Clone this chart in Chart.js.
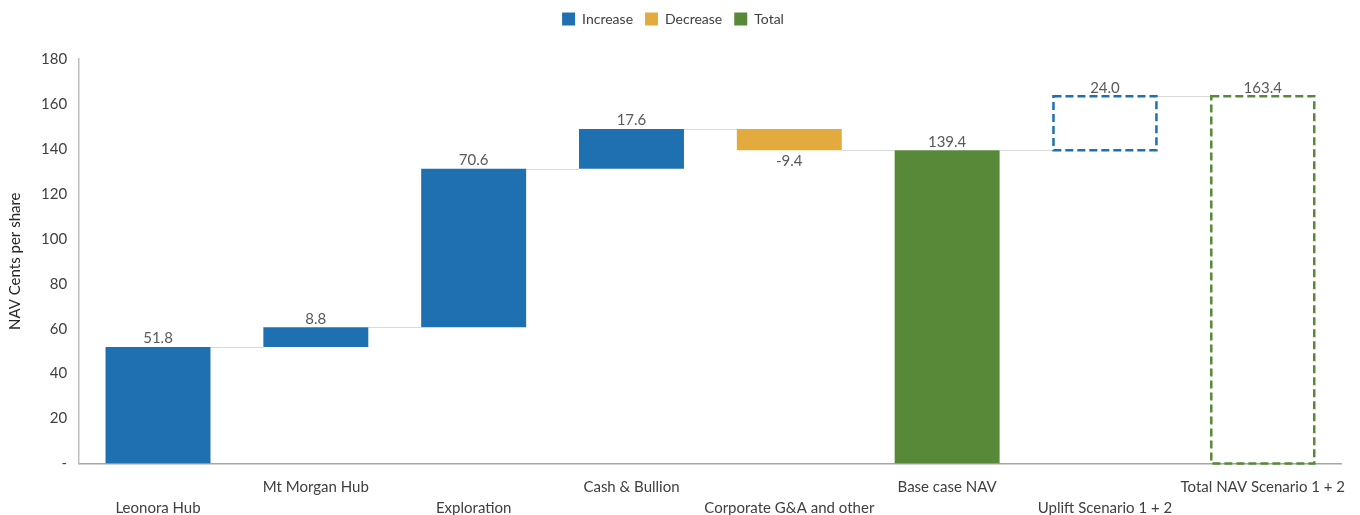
<!DOCTYPE html>
<html>
<head>
<meta charset="utf-8">
<script src="https://cdn.jsdelivr.net/npm/chart.js@4"></script>
<style>
  html, body { margin: 0; padding: 0; background: #fff; }
  #wrap { width: 1360px; height: 515px; position: relative; }
</style>
</head>
<body>
<div id="wrap"><canvas id="NavWaterfall"></canvas></div>
<script>
const categories = [
    "Leonora Hub",
    "Mt Morgan Hub",
    "Exploration",
    "Cash & Bullion",
    "Corporate G&A and other",
    "Base case NAV",
    "Uplift Scenario 1 + 2",
    "Total NAV Scenario 1 + 2"
];
// step value for each bar, and which legend group it belongs to
const stepValues = [51.8, 8.8, 70.6, 17.6, -9.4, 139.4, 24.0, 163.4];
const stepKinds = ["up", "up", "up", "up", "down", "total", "up", "total"];
// scenario bars shown as dashed outlines only
const outlineOnly = [false, false, false, false, false, false, true, true];
const yTicks = [0, 20, 40, 60, 80, 100, 120, 140, 160, 180];

const BLUE = "rgb(31, 112, 176)";
const GOLD = "rgb(227, 171, 61)";
const GREEN = "rgb(88, 137, 56)";
const BAR_PCT = 0.665;

// running totals -> floating [start, end] ranges
var ranges = [];
var running = 0;
stepValues.forEach(function (v, i) {
    if (stepKinds[i] === "total") {
        ranges.push([0, v]);
        running = v;
    } else {
        ranges.push([running, running + v]);
        running += v;
    }
});

function seriesFor(kind) {
    return ranges.map(function (r, i) { return stepKinds[i] === kind ? r : null; });
}
function fillsFor(color) {
    return outlineOnly.map(function (o) { return o ? "rgba(0,0,0,0)" : color; });
}

// extra room between the legend and the plot
const legendGap = {
    id: "legendGap",
    beforeInit: function (chart) {
        const fit = chart.legend.fit;
        chart.legend.fit = function () {
            fit.bind(chart.legend)();
            this.height += 23;
        };
    }
};

// grey connector lines between neighbouring bars
const connectorPlugin = {
    id: "connectors",
    beforeDatasetsDraw: function (chart) {
        const ctx = chart.ctx;
        const x = chart.scales.x;
        const y = chart.scales.y;
        const step = x.getPixelForValue(1) - x.getPixelForValue(0);
        const halfBar = step * BAR_PCT / 2;
        ctx.save();
        ctx.strokeStyle = "#d9d9d9";
        ctx.lineWidth = 1;
        for (let i = 0; i < ranges.length - 1; i++) {
            const py = Math.round(y.getPixelForValue(ranges[i][1])) + 0.5;
            ctx.beginPath();
            ctx.moveTo(x.getPixelForValue(i) + halfBar, py);
            ctx.lineTo(x.getPixelForValue(i + 1) - halfBar, py);
            ctx.stroke();
        }
        ctx.restore();
    }
};

// dashed outlines for the scenario bars, and value labels
const labelPlugin = {
    id: "barLabels",
    afterDatasetsDraw: function (chart) {
        const ctx = chart.ctx;
        ctx.save();
        chart.data.datasets.forEach(function (ds, di) {
            const meta = chart.getDatasetMeta(di);
            meta.data.forEach(function (bar, i) {
                if (ds.data[i] === null) return;
                const top = Math.min(bar.y, bar.base);
                const bottom = Math.max(bar.y, bar.base);
                const left = bar.x - bar.width / 2;
                if (outlineOnly[i]) {
                    ctx.setLineDash([8, 4]);
                    ctx.lineWidth = 2.5;
                    ctx.strokeStyle = ds.borderColor;
                    ctx.strokeRect(left + 1, top, bar.width - 2, bottom - top);
                    ctx.setLineDash([]);
                }
                ctx.fillStyle = "#595959";
                ctx.font = "15px Lato";
                ctx.textAlign = "center";
                const v = stepValues[i];
                if (v < 0) {
                    ctx.textBaseline = "top";
                    ctx.fillText(v.toFixed(1), bar.x, bottom + 3);
                } else {
                    ctx.textBaseline = "bottom";
                    ctx.fillText(v.toFixed(1), bar.x, top - 1);
                }
            });
        });
        ctx.restore();
    }
};

const navChart = new Chart(document.getElementById("NavWaterfall"), {
    type: "bar",
    data: {
        labels: categories,
        datasets: [
            {
                label: "Increase",
                data: seriesFor("up"),
                backgroundColor: fillsFor(BLUE),
                borderColor: BLUE,
                borderWidth: 0
            },
            {
                label: "Decrease",
                data: seriesFor("down"),
                backgroundColor: fillsFor(GOLD),
                borderColor: GOLD,
                borderWidth: 0
            },
            {
                label: "Total",
                data: seriesFor("total"),
                backgroundColor: fillsFor(GREEN),
                borderColor: GREEN,
                borderWidth: 0
            }
        ]
    },
    options: {
        responsive: true,
        maintainAspectRatio: false,
        animation: false,
        skipNull: true,
        categoryPercentage: 1,
        barPercentage: BAR_PCT,
        layout: { padding: { left: 2, right: 16, top: 0, bottom: -17 } },
        plugins: {
            legend: {
                position: "top",
                labels: {
                    boxWidth: 13,
                    boxHeight: 13,
                    color: "#404040",
                    font: { family: "Lato", size: 14 },
                    padding: 12,
                    generateLabels: function (chart) {
                        return chart.data.datasets.map(function (ds, i) {
                            return {
                                text: ds.label,
                                fillStyle: ds.borderColor,
                                strokeStyle: ds.borderColor,
                                lineWidth: 0,
                                fontColor: "#404040",
                                datasetIndex: i
                            };
                        });
                    }
                }
            },
            tooltip: { enabled: false }
        },
        scales: {
            x: {
                grid: { display: false, drawTicks: false },
                border: { color: "#a6a6a6", width: 1.5 },
                ticks: {
                    color: "#404040",
                    font: { family: "Lato", size: 15, lineHeight: 1.35 },
                    maxRotation: 0,
                    autoSkip: false,
                    padding: 14,
                    callback: function (value, index) {
                        const name = categories[index];
                        return index % 2 === 0 ? ["", name] : [name, ""];
                    }
                }
            },
            y: {
                min: 0,
                max: 180,
                afterBuildTicks: function (axis) {
                    axis.ticks = yTicks.map(function (v) { return { value: v }; });
                },
                grid: { display: false, drawTicks: false },
                border: { color: "#bfbfbf", width: 1.5 },
                title: {
                    display: true,
                    text: "NAV Cents per share",
                    color: "#262626",
                    font: { family: "Lato", size: 15 },
                    padding: { bottom: 5 }
                },
                ticks: {
                    color: "#404040",
                    font: { family: "Lato", size: 15 },
                    padding: 12,
                    callback: function (value) {
                        return value === 0 ? "-" : value;
                    }
                }
            }
        }
    },
    plugins: [legendGap, connectorPlugin, labelPlugin]
});
</script>
</body>
</html>
